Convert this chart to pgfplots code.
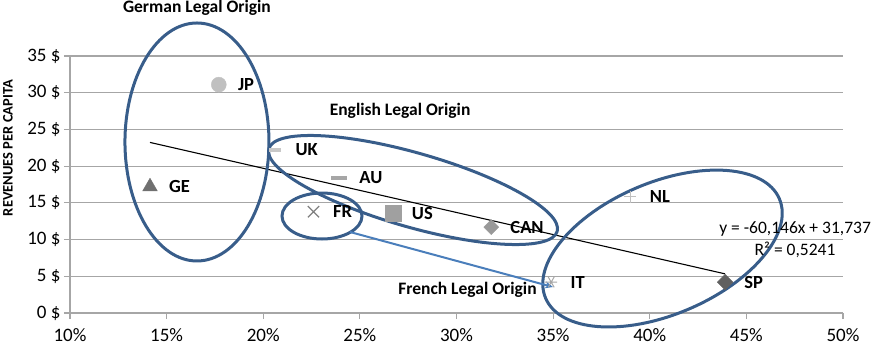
\documentclass[border=0pt]{standalone}
\usepackage{fontspec}
\setmainfont{Carlito}
\usepackage{pgfplots}
\pgfplotsset{compat=1.18}
\usetikzlibrary{arrows.meta}
\definecolor{ell}{HTML}{385D8A}
\definecolor{arr}{HTML}{4A7EBB}
\definecolor{gridc}{HTML}{A6A6A6}
\begin{document}
\begin{tikzpicture}
\pgfplotsset{
  lab/.style={nodes near coords={#1},
    every node near coord/.append style={anchor=west, inner sep=0pt, xshift=19pt,
      font=\fontsize{18.5}{18.5}\selectfont\bfseries, text=black}},
}
\begin{axis}[
  scale only axis, width=773pt, height=257pt,
  xmin=10, xmax=50, ymin=0, ymax=35,
  axis x line*=bottom, axis y line*=left,
  axis line style={draw=gridc, line width=1.2pt},
  xtick={10,15,...,50},
  xticklabels={10\%,15\%,20\%,25\%,30\%,35\%,40\%,45\%,50\%},
  ytick={0,5,...,35},
  yticklabels={0 \$,5 \$,10 \$,15 \$,20 \$,25 \$,30 \$,35 \$},
  ymajorgrids, major grid style={draw=gridc, line width=1.2pt},
  major tick style={draw=gridc, line width=1.2pt}, major tick length=6pt, tick align=outside,
  tick label style={font=\fontsize{19}{20}\selectfont, text=black},
  xticklabel style={yshift=-6pt},
  clip=false,
]
% trend line
\addplot[black, line width=1.1pt, no marks] coordinates {(14.14,23.23) (43.9,5.33)};
% data
\addplot[only marks, mark=*, mark size=7.5pt, color={rgb,255:red,192;green,192;blue,192}, lab=JP] coordinates {(17.7,31.1)};
\addplot[only marks, mark=triangle*, mark size=8.5pt, color={rgb,255:red,112;green,112;blue,112}, lab=GE] coordinates {(14.14,17.2)};
\addplot[only marks, mark=-, mark size=6pt, line width=3.5pt, color={rgb,255:red,200;green,200;blue,200}, lab=UK] coordinates {(20.6,22.2)};
\addplot[only marks, mark=-, mark size=8pt, line width=3.5pt, color={rgb,255:red,166;green,166;blue,166}, lab=AU] coordinates {(23.9,18.4)};
\addplot[only marks, mark=x, mark size=8pt, line width=1.2pt, color={rgb,255:red,128;green,128;blue,128}, lab=FR] coordinates {(22.6,13.8)};
\addplot[only marks, mark=square*, mark size=8pt, color={rgb,255:red,160;green,160;blue,160}, lab=US] coordinates {(26.7,13.6)};
\addplot[only marks, mark=square*, mark size=5.3pt, mark options={rotate=45}, color={rgb,255:red,153;green,153;blue,153}, lab=CAN] coordinates {(31.8,11.7)};
\addplot[only marks, mark=asterisk, mark size=6pt, mark options={rotate=90}, line width=1pt, color={rgb,255:red,166;green,166;blue,166}, lab=IT] coordinates {(34.9,4.2)};
\addplot[only marks, mark=+, mark size=6pt, line width=1pt, color={rgb,255:red,192;green,192;blue,192}, lab=NL] coordinates {(39.0,15.8)};
\addplot[only marks, mark=square*, mark size=5.5pt, mark options={rotate=45}, color={rgb,255:red,96;green,96;blue,96}, lab=SP] coordinates {(43.9,4.2)};
% ellipses
\draw[ell, line width=3pt] (axis cs:16.57,23.29) ellipse [x radius=72pt, y radius=119pt];
\draw[ell, line width=3pt] (axis cs:27.75,16.75) circle [x radius=150pt, y radius=37pt, rotate=-16];
\draw[ell, line width=3pt] (axis cs:23.04,13.21) ellipse [x radius=40pt, y radius=23pt];
\draw[ell, line width=3pt] (axis cs:40.66,8.78) circle [x radius=127pt, y radius=66pt, rotate=23];
% arrow
\draw[arr, line width=2pt, -{Stealth[length=8pt,width=7pt]}] (axis cs:24.49,11.03) -- (axis cs:34.99,3.54);
% titles
\node[font=\fontsize{17.5}{17.5}\selectfont\bfseries] at (axis cs:16.57,41.5) {German Legal Origin};
\node[font=\fontsize{17.5}{17.5}\selectfont\bfseries] at (axis cs:27.08,27.51) {English Legal Origin};
\node[font=\fontsize{17.5}{17.5}\selectfont\bfseries] at (axis cs:30.57,3.13) {French Legal Origin};
\node[font=\fontsize{17.5}{17.5}\selectfont] at (axis cs:47.52,11.44) {y = -60,146x + 31,737};
\node[font=\fontsize{17.5}{17.5}\selectfont] at (axis cs:47.52,8.58) {R² = 0,5241};
\node[font=\fontsize{14.5}{14.5}\selectfont\bfseries, rotate=90] at (axis cs:6.79,22.47) {REVENUES PER CAPITA};
\end{axis}
\pgfresetboundingbox
\path[use as bounding box] (-70pt,-41pt) rectangle (813pt,313pt);
\end{tikzpicture}
\end{document}
